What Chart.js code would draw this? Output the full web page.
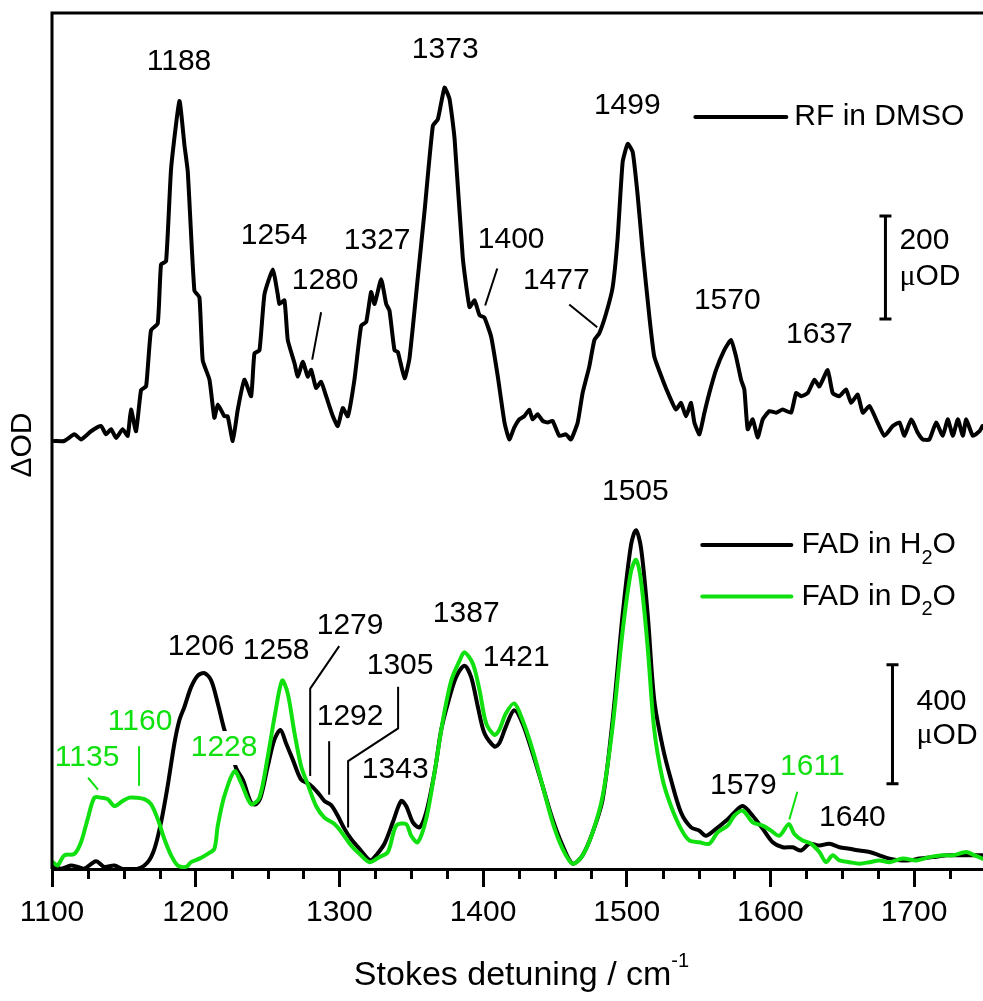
<!DOCTYPE html>
<html>
<head>
<meta charset="utf-8">
<script src="https://cdn.jsdelivr.net/npm/chart.js@4.4.1/dist/chart.umd.min.js"></script>
<style>
  html, body { margin: 0; padding: 0; background: #fff; }
</style>
</head>
<body>
<canvas id="spectra" width="983" height="1001"></canvas>
<script>
// RF in DMSO (upper trace), wavenumber in cm-1 and signal in uOD
var rfX = [1101.6,1108.6,1115.6,1120.2,1127.2,1134.1,1137.6,1141.1,1144.6,1149.2,1152.7,1155.0,1158.5,1162.0,1165.5,1168.9,1173.6,1175.9,1179.4,1182.9,
  1188.7,1192.2,1194.5,1199.1,1202.6,1204.9,1209.6,1213.0,1215.4,1220.0,1222.3,1225.8,1229.3,1233.9,1238.6,1240.9,1244.4,1247.9,1253.7,1257.1,
  1258.3,1261.8,1264.1,1268.8,1271.1,1274.6,1278.0,1280.4,1283.8,1287.3,1290.8,1295.5,1298.9,1302.4,1305.9,1310.5,1315.2,1318.7,1322.1,1324.5,
  1329.1,1332.6,1334.9,1338.4,1340.7,1345.4,1348.8,1354.6,1359.3,1365.1,1368.6,1373.2,1376.7,1380.2,1385.9,1390.6,1394.1,1397.6,1400.9,1405.7,
  1410.3,1415.0,1418.3,1421.7,1425.2,1428.7,1432.2,1434.5,1438.0,1441.5,1445.0,1448.4,1453.1,1457.7,1461.2,1465.9,1469.3,1474.0,1477.5,1480.9,
  1485.6,1490.2,1493.7,1497.2,1500.7,1504.2,1507.6,1511.1,1515.8,1519.2,1525.0,1529.7,1534.3,1537.8,1541.3,1544.8,1547.1,1550.6,1554.1,1557.5,
  1562.2,1568.0,1572.6,1576.1,1579.6,1581.9,1584.2,1587.7,1591.2,1594.7,1599.3,1603.9,1608.6,1614.4,1617.9,1621.4,1626.0,1630.7,1634.1,1639.9,
  1643.4,1648.1,1652.7,1656.2,1660.8,1664.3,1669.0,1673.6,1679.4,1685.2,1689.9,1693.3,1698.0,1702.6,1706.1,1710.7,1715.4,1720.0,1723.5,1727.0,
  1730.5,1734.0,1736.3,1740.9,1745.6,1747.6];
var rfY = [0,0,13,3,19,29,13,23,6,23,10,61,19,99,106,215,228,343,349,529,
  660,574,523,292,279,157,119,45,71,48,48,0,61,119,87,170,176,285,333,285,
  266,273,196,151,125,154,125,138,103,115,87,48,29,64,48,119,224,231,289,266,
  314,266,253,176,173,122,160,317,446,612,625,686,664,587,356,260,273,244,240,202,
  125,35,3,26,42,48,61,42,52,39,36,39,10,13,3,36,93,145,196,209,
  247,298,394,542,577,561,478,369,241,164,119,87,61,74,48,74,36,13,55,93,
  138,177,196,164,119,100,23,42,7,42,58,55,61,55,93,87,93,119,106,138,
  93,87,100,74,90,55,68,42,10,29,36,10,42,16,3,3,36,10,42,10,
  42,10,42,10,19,29];

// FAD in H2O (lower, black)
var h2oX = [1100.5,1106.3,1113.2,1117.9,1122.5,1130.6,1136.4,1143.4,1149.2,1159.7,1166.6,1171.3,1175.9,1180.5,1185.2,1188.7,1192.2,1196.8,1201.5,1206.1,
  1210.8,1215.4,1220.0,1224.7,1228.1,1232.8,1238.6,1242.1,1245.5,1250.2,1254.8,1259.0,1262.9,1267.6,1273.4,1279.2,1285.0,1289.6,1294.3,1298.9,
  1303.6,1308.2,1314.0,1319.8,1322.1,1325.6,1331.4,1337.2,1343.0,1346.5,1351.2,1355.8,1360.4,1366.2,1370.9,1375.5,1381.3,1387.1,1391.7,1396.4,
  1401.0,1408.0,1411.3,1415.9,1421.7,1427.5,1434.5,1441.5,1448.4,1455.4,1462.4,1469.3,1476.3,1483.3,1490.2,1497.2,1503.0,1506.5,1510.0,1514.6,
  1519.2,1525.0,1530.8,1537.8,1544.8,1550.6,1555.2,1562.2,1569.1,1574.9,1580.8,1587.7,1594.7,1601.6,1608.6,1615.6,1621.4,1627.2,1634.1,1641.1,
  1648.1,1655.0,1662.0,1669.0,1675.9,1682.9,1689.9,1696.8,1703.8,1713.1,1722.4,1731.6,1740.9,1747.6];
var h2oY = [12,1,12,7,1,26,7,12,0,1,23,68,157,279,423,501,546,612,651,659,
  634,557,468,401,340,301,223,218,246,346,435,468,423,368,301,285,257,229,215,179,
  135,101,68,35,29,46,85,157,229,212,157,140,190,323,468,557,646,684,646,546,
  457,412,423,479,534,490,390,279,168,79,18,46,123,235,501,857,1090,1140,1079,857,
  568,412,301,190,140,129,112,135,162,190,212,179,135,90,73,73,62,85,79,85,
  73,68,62,57,46,35,29,29,35,40,46,46,46,46];

// FAD in D2O (lower, green)
var d2oX = [1100.5,1103.9,1108.6,1115.6,1120.2,1124.8,1129.5,1134.1,1138.8,1143.4,1149.2,1153.9,1158.5,1164.3,1168.9,1173.6,1178.2,1182.9,1187.5,1193.3,
  1196.8,1202.6,1208.4,1213.0,1215.4,1220.0,1227.0,1231.6,1238.6,1244.4,1250.2,1255.3,1260.2,1264.1,1268.8,1273.4,1278.0,1283.8,1289.6,1296.6,
  1302.4,1308.2,1314.0,1321.0,1327.9,1333.8,1339.6,1346.5,1350.0,1354.6,1360.4,1366.2,1372.1,1377.9,1383.7,1387.1,1393.0,1397.6,1402.2,1408.0,
  1411.3,1415.9,1421.7,1427.5,1434.5,1441.5,1448.4,1455.4,1462.4,1469.3,1476.3,1483.3,1490.2,1497.2,1503.0,1506.5,1510.0,1514.6,1519.2,1525.0,
  1530.8,1537.8,1543.6,1550.6,1557.5,1563.3,1570.3,1574.9,1580.8,1587.7,1594.7,1600.5,1606.3,1612.8,1616.7,1622.5,1628.3,1634.1,1638.8,1643.4,
  1648.1,1655.0,1662.0,1669.0,1675.9,1682.9,1692.2,1701.5,1710.7,1720.0,1727.0,1736.3,1742.1,1747.6];
var d2oY = [23,12,46,51,90,168,240,240,235,212,229,240,240,235,218,168,101,46,12,7,
  23,35,51,68,146,246,329,290,218,240,379,523,634,590,457,346,285,212,173,151,
  118,79,51,23,40,57,146,151,112,90,168,323,501,634,701,729,690,601,490,451,
  468,523,557,501,401,279,157,68,18,46,123,246,479,801,1001,1040,968,746,468,301,
  212,135,96,90,85,123,146,179,196,157,146,129,112,151,118,96,85,57,23,46,
  29,23,18,23,29,23,35,29,40,46,46,57,46,35];

var xTicks = [1100, 1200, 1300, 1400, 1500, 1600, 1700];

var FONT = "'Liberation Sans', Arial, sans-serif";
var SERIF = "'Liberation Serif', 'Times New Roman', serif";
var GREEN = '#10e010';

// peak labels: text, wavenumber, height, axis, colour, white box behind
var peakLabels = [
  ['1188', 1188.4, 736, 'yUp', '#000'], ['1254', 1254.6, 398, 'yUp', '#000'],
  ['1280', 1290.1, 311, 'yUp', '#000'], ['1327', 1326.3, 388, 'yUp', '#000'],
  ['1373', 1373.7, 760, 'yUp', '#000'], ['1400', 1419.6, 390, 'yUp', '#000'],
  ['1477', 1451.0, 311, 'yUp', '#000'], ['1499', 1500.4, 650, 'yUp', '#000'],
  ['1570', 1570.0, 273, 'yUp', '#000'], ['1637', 1634.1, 206, 'yUp', '#000'],
  ['1206', 1203.8, 747, 'yLow', '#000'], ['1258', 1256.0, 733, 'yLow', '#000'],
  ['1279', 1307.5, 820, 'yLow', '#000'], ['1292', 1307.5, 513, 'yLow', '#000'],
  ['1305', 1342.3, 683, 'yLow', '#000'], ['1343', 1338.9, 333, 'yLow', '#000'],
  ['1387', 1388.3, 860, 'yLow', '#000'], ['1421', 1423.1, 710, 'yLow', '#000'],
  ['1505', 1506.0, 1270, 'yLow', '#000'], ['1579', 1581.2, 280, 'yLow', '#000'],
  ['1640', 1657.1, 173, 'yLow', '#000'],
  ['1135', 1124.4, 373, 'yLow', GREEN], ['1160', 1161.3, 497, 'yLow', GREEN],
  ['1228', 1219.8, 407, 'yLow', GREEN, true], ['1611', 1629.2, 343, 'yLow', GREEN]
];
// thin pointer lines from labels to shoulders
var leaders = [
  ['yUp', '#000', [[1287.3, 250], [1281.1, 158]]],
  ['yUp', '#000', [[1409.9, 335], [1401.5, 263]]],
  ['yUp', '#000', [[1460.0, 265], [1479.5, 221]]],
  ['yLow', '#000', [[1299.9, 750], [1279.7, 607], [1279.7, 313]]],
  ['yLow', '#000', [[1292.9, 430], [1292.9, 250]]],
  ['yLow', '#000', [[1340.9, 613], [1340.9, 473], [1306.1, 363], [1306.1, 140]]],
  ['yLow', GREEN, [[1125.1, 307], [1132.0, 267]]],
  ['yLow', GREEN, [[1160.6, 413], [1160.6, 280]]],
  ['yLow', GREEN, [[1618.8, 260], [1613.2, 167]]]
];

function pts(xs, ys) {
  return xs.map(function (x, i) { return { x: x, y: ys[i] }; });
}

function richText(ctx, parts, x, y) {
  // parts: [text, font, dy]
  parts.forEach(function (p) {
    ctx.font = p[1];
    ctx.fillText(p[0], x, y + p[2]);
    x += ctx.measureText(p[0]).width;
  });
  return x;
}

var overlay = {
  id: 'overlay',
  afterDraw: function (chart) {
    var ctx = chart.ctx, a = chart.chartArea, sx = chart.scales.x;
    ctx.save();
    ctx.strokeStyle = '#000';
    ctx.lineCap = 'butt';

    // frame: left and top edges
    ctx.lineWidth = 3;
    ctx.beginPath();
    ctx.moveTo(a.left, a.bottom);
    ctx.lineTo(a.left, a.top);
    ctx.lineTo(a.right + 2, a.top);
    ctx.stroke();

    // minor ticks every 25
    for (var v = 1125; v < sx.max; v += 25) {
      if (v % 100 === 0) continue;
      var px = Math.round(sx.getPixelForValue(v)) + 0.5;
      ctx.beginPath();
      ctx.moveTo(px, a.bottom);
      ctx.lineTo(px, a.bottom + 10);
      ctx.stroke();
    }

    // leader lines
    ctx.lineWidth = 2;
    leaders.forEach(function (l) {
      var sy = chart.scales[l[0]];
      ctx.strokeStyle = l[1];
      ctx.beginPath();
      l[2].forEach(function (p, i) {
        var X = sx.getPixelForValue(p[0]), Y = sy.getPixelForValue(p[1]);
        if (i === 0) ctx.moveTo(X, Y); else ctx.lineTo(X, Y);
      });
      ctx.stroke();
    });

    // peak labels
    ctx.textAlign = 'center';
    ctx.textBaseline = 'middle';
    ctx.font = '30px ' + FONT;
    peakLabels.forEach(function (l) {
      var X = sx.getPixelForValue(l[1]), Y = chart.scales[l[3]].getPixelForValue(l[2]);
      if (l[5]) {
        var w = ctx.measureText(l[0]).width;
        ctx.fillStyle = '#fff';
        ctx.fillRect(X - w / 2 - 2, Y - 17, w + 4, 34);
      }
      ctx.fillStyle = l[4];
      ctx.fillText(l[0], X, Y);
    });

    // scale bars
    ctx.strokeStyle = '#000';
    ctx.lineWidth = 3;
    function bar(w, lo, hi, axis) {
      var sy = chart.scales[axis];
      var X = sx.getPixelForValue(w), y1 = sy.getPixelForValue(lo), y2 = sy.getPixelForValue(hi);
      ctx.beginPath();
      ctx.moveTo(X, y1); ctx.lineTo(X, y2);
      ctx.moveTo(X - 6, y1); ctx.lineTo(X + 6, y1);
      ctx.moveTo(X - 6, y2); ctx.lineTo(X + 6, y2);
      ctx.stroke();
    }
    bar(1680.1, 237, 437, 'yUp');
    bar(1685.0, 287, 687, 'yLow');

    ctx.textAlign = 'left';
    ctx.fillStyle = '#000';
    var f30 = '30px ' + FONT, f20 = '20px ' + FONT, mu = '30px ' + SERIF;
    var su = chart.scales.yUp, sl = chart.scales.yLow;
    richText(ctx, [['200', f30, 0]], sx.getPixelForValue(1689.8), su.getPixelForValue(388));
    richText(ctx, [['\u03bc', mu, 0], ['OD', f30, 0]], sx.getPixelForValue(1689.8), su.getPixelForValue(319));
    richText(ctx, [['400', f30, 0]], sx.getPixelForValue(1701.7), sl.getPixelForValue(563));
    richText(ctx, [['\u03bc', mu, 0], ['OD', f30, 0]], sx.getPixelForValue(1701.7), sl.getPixelForValue(450));

    // legend entries
    function legendRow(x1, x2, tx, y, axis, color, parts) {
      var Y = chart.scales[axis].getPixelForValue(y);
      ctx.strokeStyle = color;
      ctx.lineWidth = 4;
      ctx.lineCap = 'round';
      ctx.beginPath();
      ctx.moveTo(sx.getPixelForValue(x1), Y);
      ctx.lineTo(sx.getPixelForValue(x2), Y);
      ctx.stroke();
      ctx.fillStyle = '#000';
      richText(ctx, parts, sx.getPixelForValue(tx), Y);
    }
    var sets = chart.data.datasets;
    legendRow(1547.8, 1611.1, 1616.7, 629, 'yUp', sets[0].borderColor, [['RF in DMSO', f30, 0]]);
    legendRow(1552.6, 1614.6, 1621.6, 1090, 'yLow', sets[1].borderColor, [['FAD in H', f30, 0], ['2', f20, 13], ['O', f30, 0]]);
    legendRow(1552.6, 1614.6, 1621.6, 917, 'yLow', sets[2].borderColor, [['FAD in D', f30, 0], ['2', f20, 13], ['O', f30, 0]]);

    // axis titles
    ctx.fillStyle = '#000';
    ctx.textBaseline = 'alphabetic';
    ctx.font = '34px ' + FONT;
    var main = 'Stokes detuning / cm';
    var mw = ctx.measureText(main).width;
    ctx.font = '20px ' + FONT;
    var sw = ctx.measureText('-1').width;
    var startX = (a.left + a.right) / 2 + 4 - (mw + sw) / 2;
    richText(ctx, [[main, '34px ' + FONT, 0], ['-1', '20px ' + FONT, -18]], startX, a.bottom + 116);

    ctx.translate(a.left - 29, (a.top + a.bottom) / 2 + 4);
    ctx.rotate(-Math.PI / 2);
    ctx.textAlign = 'center';
    ctx.textBaseline = 'middle';
    ctx.font = '30px ' + FONT;
    ctx.fillText('\u0394OD', 0, 0);
    ctx.restore();
  }
};

var ctx = document.getElementById('spectra').getContext('2d');
var chart = new Chart(ctx, {
  type: 'line',
  data: {
    datasets: [
      { label: 'RF in DMSO', data: pts(rfX, rfY), yAxisID: 'yUp', borderColor: '#000', borderWidth: 4, tension: 0.15, order: 2 },
      { label: 'FAD in H2O', data: pts(h2oX, h2oY), yAxisID: 'yLow', borderColor: '#000', borderWidth: 4, tension: 0.3, order: 1 },
      { label: 'FAD in D2O', data: pts(d2oX, d2oY), yAxisID: 'yLow', borderColor: GREEN, borderWidth: 4, tension: 0.3, order: 0 }
    ]
  },
  options: {
    responsive: false,
    animation: false,
    devicePixelRatio: 1,
    layout: { padding: { left: 52, right: 0, top: 13, bottom: 62 } },
    elements: {
      point: { radius: 0 },
      line: { fill: false, borderJoinStyle: 'round', borderCapStyle: 'round' }
    },
    plugins: { legend: { display: false }, tooltip: { enabled: false } },
    scales: {
      x: {
        type: 'linear', min: 1100, max: 1748,
        afterBuildTicks: function (s) { s.ticks = xTicks.map(function (v) { return { value: v }; }); },
        ticks: {
          padding: 8, color: '#000', maxRotation: 0, autoSkip: false, font: { family: FONT, size: 30 },
          callback: function (v) { return String(v); }
        },
        grid: { drawOnChartArea: false, drawTicks: true, tickLength: 18, tickWidth: 3, tickColor: '#000', lineWidth: 3 },
        border: { display: true, color: '#000', width: 3 }
      },
      yUp: { type: 'linear', min: -831, max: 831, display: false },
      yLow: { type: 'linear', min: 0, max: 2880, display: false }
    }
  },
  plugins: [overlay]
});
</script>
</body>
</html>
